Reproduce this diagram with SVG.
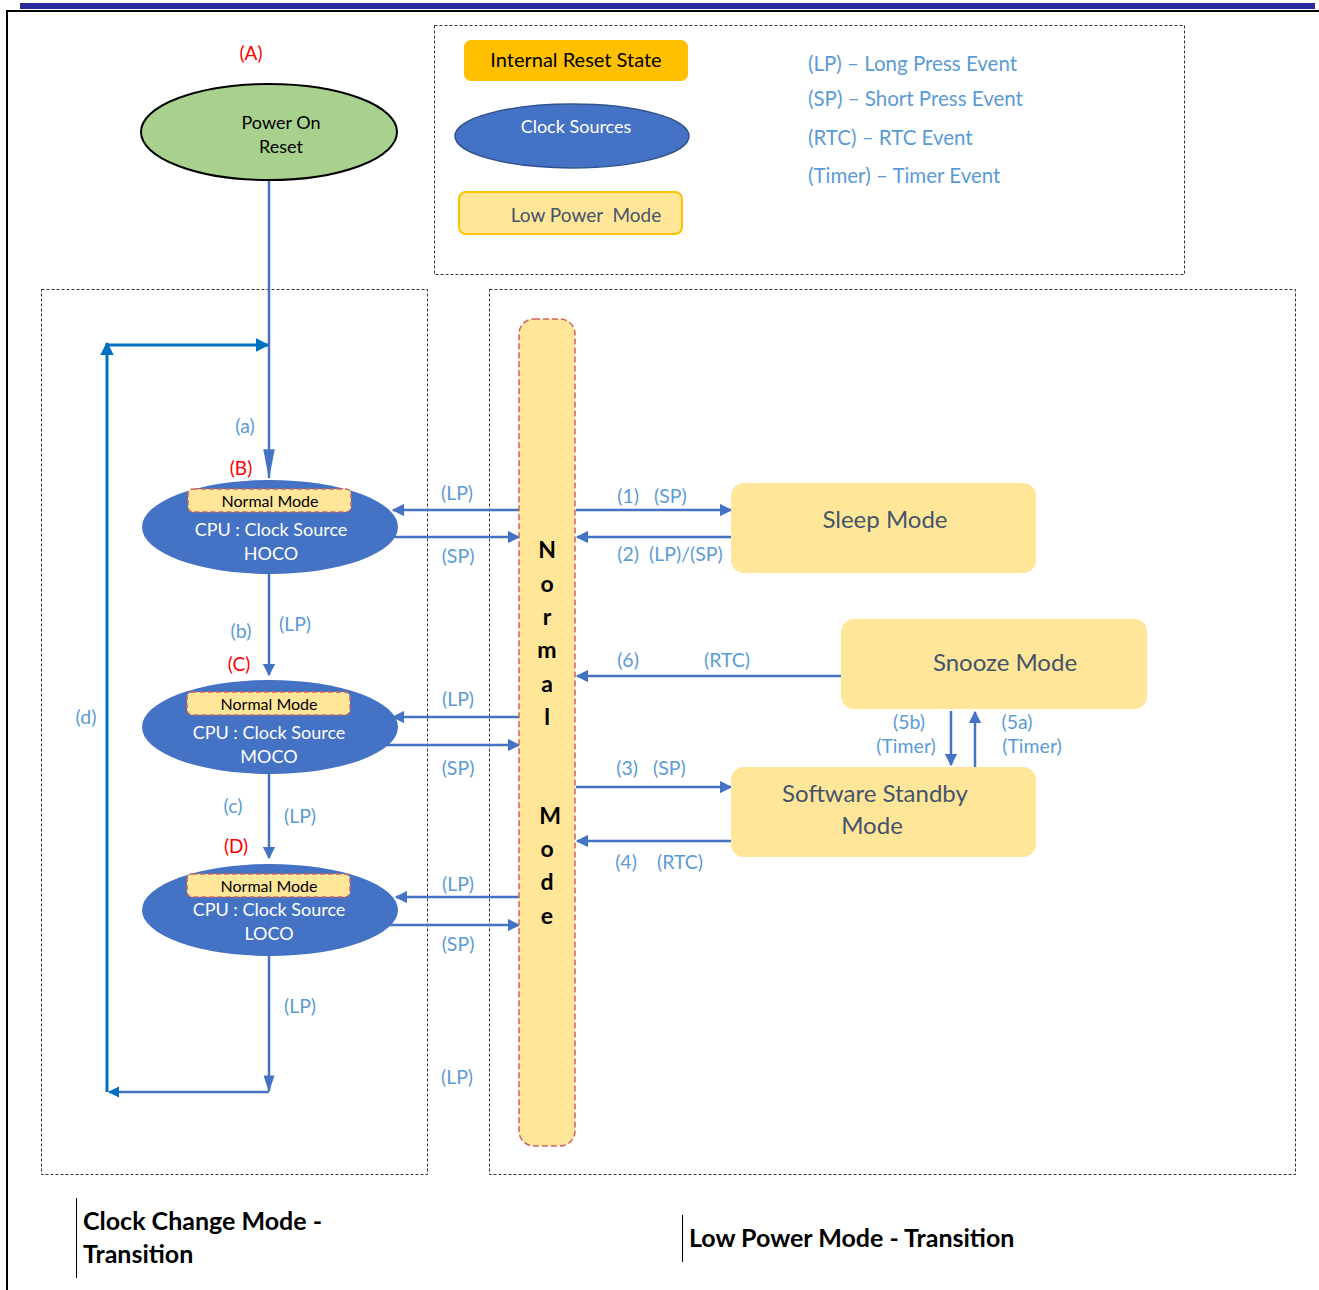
<svg xmlns="http://www.w3.org/2000/svg" width="1319" height="1290" viewBox="0 0 1319 1290">
<defs>
<style>
text{font-family:Lato,"Liberation Sans",sans-serif;}
.lbl{fill:#5b9bd5;font-size:19.5px;text-anchor:middle;}
.leg{fill:#5b9bd5;font-size:20.5px;}
.red{fill:#ff0000;font-size:19px;text-anchor:middle;}
.wt{fill:#ffffff;font-size:18px;text-anchor:middle;}
.nm{fill:#000;font-size:16px;text-anchor:middle;}
.dk{fill:#44546a;font-size:24px;text-anchor:middle;}
.bar{fill:#000;font-size:23px;font-weight:bold;text-anchor:middle;}
.ttl{fill:#000;font-size:25px;font-weight:bold;}
.box{fill:none;stroke:#333;stroke-width:1;stroke-dasharray:3 2;}
.ell{fill:#4472c4;}
.nmb{fill:#ffe699;stroke:#d06060;stroke-width:1.5;stroke-dasharray:5 3;}
.lpm{fill:#ffe699;}
.ln{stroke:#4472c4;stroke-width:2.5;fill:none;}
.ln2{stroke:#0070c0;stroke-width:3;fill:none;}
</style>
<marker id="ah" viewBox="0 0 10 10" refX="9" refY="5" markerWidth="5" markerHeight="5" orient="auto" markerUnits="strokeWidth">
<path d="M0,0 L10,5 L0,10 z" fill="#4472c4"/>
</marker>
<marker id="ah2" viewBox="0 0 10 10" refX="9" refY="5" markerWidth="4.5" markerHeight="4.5" orient="auto" markerUnits="strokeWidth">
<path d="M0,0 L10,5 L0,10 z" fill="#0070c0"/>
</marker>
<marker id="ahB" viewBox="0 0 26 10" refX="25" refY="5" markerWidth="12" markerHeight="4.6" orient="auto" markerUnits="strokeWidth">
<path d="M0,0 L26,5 L0,10 z" fill="#4472c4"/>
</marker>
<marker id="ahC" viewBox="0 0 15 10" refX="14" refY="5" markerWidth="6.7" markerHeight="4.4" orient="auto" markerUnits="strokeWidth">
<path d="M0,0 L15,5 L0,10 z" fill="#4472c4"/>
</marker>
</defs>

<rect x="20" y="3" width="1295" height="6" fill="#2b2ba0"/>
<line x1="6" y1="11" x2="1319" y2="11" stroke="#000" stroke-width="2"/>
<line x1="7" y1="10" x2="7" y2="1290" stroke="#000" stroke-width="2"/>

<g id="legend">
<rect class="box" x="434.5" y="25.5" width="750" height="249"/>
<rect x="464" y="40" width="224" height="41" rx="7" fill="#ffc000"/>
<text x="576" y="67" text-anchor="middle" font-size="20" fill="#000">Internal Reset State</text>
<ellipse cx="572" cy="136" rx="117" ry="32" fill="#4472c4" stroke="#2f528f" stroke-width="1.5"/>
<text x="576" y="133" class="wt">Clock Sources</text>
<rect x="459" y="192" width="223" height="42" rx="7" fill="#ffe699" stroke="#ffc000" stroke-width="2"/>
<text x="586" y="222" font-size="19" fill="#44546a" text-anchor="middle" xml:space="preserve">Low Power  Mode</text>
<text x="808" y="71" class="leg">(LP) – Long Press Event</text>
<text x="808" y="106" class="leg">(SP) – Short Press Event</text>
<text x="808" y="145" class="leg">(RTC) – RTC Event</text>
<text x="808" y="183" class="leg">(Timer) – Timer Event</text>
</g>

<rect class="box" x="41.5" y="289.5" width="386" height="885"/>
<rect class="box" x="489.5" y="289.5" width="806" height="885"/>

<g id="connectors">
<line class="ln" x1="269" y1="180" x2="269" y2="478" stroke-width="3" marker-end="url(#ahB)"/>
<line class="ln2" x1="107" y1="1092" x2="107" y2="343" marker-end="url(#ah2)"/>
<line class="ln2" x1="107" y1="345" x2="268" y2="345" marker-end="url(#ah2)"/>
<line class="ln" x1="269" y1="955" x2="269" y2="1091" stroke-width="3" marker-end="url(#ahC)"/>
<line class="ln" x1="269" y1="1092" x2="109" y2="1092" stroke-width="3" marker-end="url(#ah2)"/>
<line class="ln" x1="269" y1="574" x2="269" y2="675" marker-end="url(#ah)"/>
<line class="ln" x1="269" y1="774" x2="269" y2="858" marker-end="url(#ah)"/>

<line class="ln" x1="519" y1="510" x2="393" y2="510" marker-end="url(#ah)"/>
<line class="ln" x1="390" y1="537" x2="519" y2="537" marker-end="url(#ah)"/>
<line class="ln" x1="519" y1="717" x2="393" y2="717" marker-end="url(#ah)"/>
<line class="ln" x1="385" y1="745" x2="519" y2="745" marker-end="url(#ah)"/>
<line class="ln" x1="519" y1="897" x2="396" y2="897" marker-end="url(#ah)"/>
<line class="ln" x1="385" y1="925" x2="519" y2="925" marker-end="url(#ah)"/>

<line class="ln" x1="576" y1="510" x2="731" y2="510" stroke-width="2" marker-end="url(#ah)"/>
<line class="ln" x1="731" y1="537" x2="577" y2="537" stroke-width="2" marker-end="url(#ah)"/>
<line class="ln" x1="841" y1="676" x2="577" y2="676" stroke-width="2" marker-end="url(#ah)"/>
<line class="ln" x1="576" y1="787" x2="731" y2="787" stroke-width="2" marker-end="url(#ah)"/>
<line class="ln" x1="731" y1="841" x2="577" y2="841" stroke-width="2" marker-end="url(#ah)"/>
<line class="ln" x1="951" y1="711" x2="951" y2="765" marker-end="url(#ah)"/>
<line class="ln" x1="975" y1="767" x2="975" y2="712" marker-end="url(#ah)"/>
</g>

<g id="labels">
<text x="251" y="60" class="red">(A)</text>
<text x="245" y="433" class="lbl">(a)</text>
<text x="241" y="475" class="red">(B)</text>
<text x="241" y="638" class="lbl">(b)</text>
<text x="295" y="631" class="lbl">(LP)</text>
<text x="239" y="671" class="red">(C)</text>
<text x="233" y="813" class="lbl">(c)</text>
<text x="300" y="823" class="lbl">(LP)</text>
<text x="236" y="853" class="red">(D)</text>
<text x="300" y="1013" class="lbl">(LP)</text>
<text x="86" y="724" class="lbl">(d)</text>
<text x="457" y="500" class="lbl">(LP)</text>
<text x="458" y="563" class="lbl">(SP)</text>
<text x="458" y="706" class="lbl">(LP)</text>
<text x="458" y="775" class="lbl">(SP)</text>
<text x="458" y="891" class="lbl">(LP)</text>
<text x="458" y="951" class="lbl">(SP)</text>
<text x="457" y="1084" class="lbl">(LP)</text>
<text x="652" y="503" class="lbl" xml:space="preserve">(1)   (SP)</text>
<text x="670" y="561" class="lbl" xml:space="preserve">(2)  (LP)/(SP)</text>
<text x="628" y="667" class="lbl">(6)</text>
<text x="727" y="667" class="lbl">(RTC)</text>
<text x="651" y="775" class="lbl" xml:space="preserve">(3)   (SP)</text>
<text x="626" y="869" class="lbl">(4)</text>
<text x="680" y="869" class="lbl">(RTC)</text>
<text x="909" y="729" class="lbl">(5b)</text>
<text x="906" y="753" class="lbl">(Timer)</text>
<text x="1017" y="729" class="lbl">(5a)</text>
<text x="1032" y="753" class="lbl">(Timer)</text>
</g>

<g id="por">
<ellipse cx="269" cy="132" rx="128" ry="48" fill="#a9d18e" stroke="#000" stroke-width="2"/>
<text x="281" y="129" font-size="18" fill="#000" text-anchor="middle">Power On</text>
<text x="281" y="153" font-size="18" fill="#000" text-anchor="middle">Reset</text>
</g>

<g id="hoco">
<ellipse class="ell" cx="270" cy="527" rx="128" ry="47"/>
<rect class="nmb" x="188" y="489" width="163" height="23" rx="5"/>
<text x="270" y="507" class="nm">Normal Mode</text>
<text x="271" y="536" class="wt">CPU : Clock Source</text>
<text x="271" y="560" class="wt">HOCO</text>
</g>

<g id="moco">
<ellipse class="ell" cx="270" cy="727" rx="128" ry="47"/>
<rect class="nmb" x="187" y="692" width="163" height="23" rx="5"/>
<text x="269" y="710" class="nm">Normal Mode</text>
<text x="269" y="739" class="wt">CPU : Clock Source</text>
<text x="269" y="763" class="wt">MOCO</text>
</g>

<g id="loco">
<ellipse class="ell" cx="270" cy="910" rx="128" ry="46"/>
<rect class="nmb" x="187" y="874" width="163" height="23" rx="5"/>
<text x="269" y="892" class="nm">Normal Mode</text>
<text x="269" y="916" class="wt">CPU : Clock Source</text>
<text x="269" y="940" class="wt">LOCO</text>
</g>

<g id="normal-mode">
<rect x="519" y="319" width="56" height="827" rx="15" fill="#ffe699" stroke="#d06060" stroke-width="1.5" stroke-dasharray="6 3"/>
<text x="547" y="558" class="bar">N</text>
<text x="547" y="592" class="bar">o</text>
<text x="547" y="625" class="bar">r</text>
<text x="547" y="658" class="bar">m</text>
<text x="547" y="692" class="bar">a</text>
<text x="547" y="725" class="bar">l</text>
<text x="550" y="824" class="bar">M</text>
<text x="547" y="857" class="bar">o</text>
<text x="547" y="890" class="bar">d</text>
<text x="547" y="924" class="bar">e</text>
</g>

<g id="sleep">
<rect class="lpm" x="731" y="483" width="305" height="90" rx="13"/>
<text x="885" y="528" class="dk">Sleep Mode</text>
</g>

<g id="snooze">
<rect class="lpm" x="841" y="619" width="306" height="90" rx="13"/>
<text x="1005" y="671" class="dk">Snooze Mode</text>
</g>

<g id="standby">
<rect class="lpm" x="731" y="767" width="305" height="90" rx="13"/>
<text x="875" y="802" class="dk">Software Standby</text>
<text x="872" y="834" class="dk">Mode</text>
</g>

<g id="titles">
<line x1="76.5" y1="1198" x2="76.5" y2="1278" stroke="#000" stroke-width="1"/>
<text x="83" y="1230" class="ttl">Clock Change Mode -</text>
<text x="83" y="1263" class="ttl">Transition</text>
<line x1="682.5" y1="1215" x2="682.5" y2="1262" stroke="#000" stroke-width="1"/>
<text x="689" y="1247" class="ttl">Low Power Mode - Transition</text>
</g>
</svg>
